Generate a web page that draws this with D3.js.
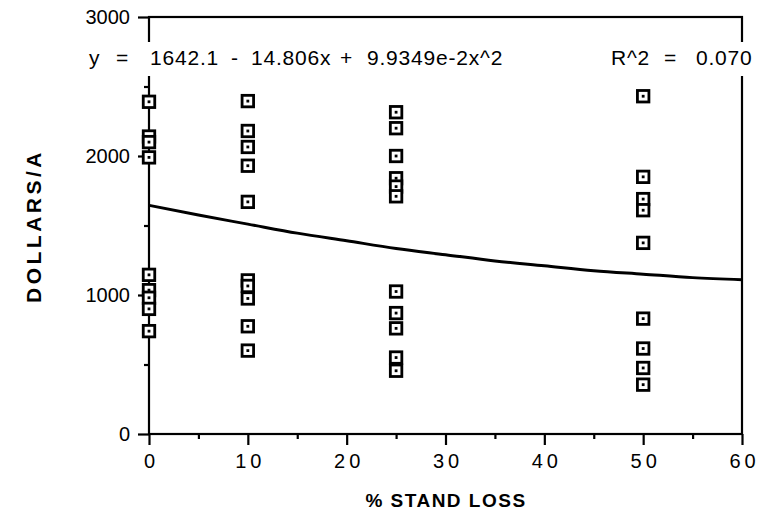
<!DOCTYPE html>
<html><head><meta charset="utf-8">
<script src="https://cdn.jsdelivr.net/npm/d3@7"></script>
<style>body{margin:0;background:#fff}svg{display:block}</style>
</head><body>
<svg id="c" width="772" height="521"></svg>
<script>
// ---- data ----
const standLoss = [0, 10, 25, 50];
const dollarsAt0  = [2390, 2140, 2100, 1990, 1145, 1035, 980, 900, 740];
const dollarsAt10 = [2395, 2180, 2065, 1930, 1670, 1105, 1065, 975, 775, 600];
const dollarsAt25 = [2315, 2200, 2000, 1840, 1780, 1710, 1025, 870, 760, 550, 455];
const dollarsAt50 = [2430, 1850, 1690, 1610, 1375, 830, 615, 475, 355];
const fitX = [0, 5, 10, 15, 20, 25, 30, 35, 40, 45, 50, 55, 60];
const fitY = [1645, 1575, 1510, 1445, 1390, 1335, 1290, 1245, 1210, 1175, 1150, 1125, 1110];
const xTicks = [0, 10, 20, 30, 40, 50, 60];
const xMinor = [5, 15, 25, 35, 45, 55];
const yTicks = [0, 1000, 2000, 3000];
const yMinor = [500, 1500, 2500];
const equationParts = ["y", "=", "1642.1", "-", "14.806x", "+", "9.9349e-2x^2", "R^2", "=", "0.070"];
const xTitle = "% STAND LOSS";
const yTitle = "DOLLARS/A";

const groups = [dollarsAt0, dollarsAt10, dollarsAt25, dollarsAt50];
const points = [];
groups.forEach((arr, i) => arr.forEach(v => points.push({x: standLoss[i], y: v})));

const svg = d3.select("#c");
const L = 149, R = 742, T = 17, B = 434;
const x = d3.scaleLinear().domain([0, 60]).range([L, R]);
const y = d3.scaleLinear().domain([0, 3000]).range([B, T]);
const font = "'Liberation Sans', Arial, Helvetica, sans-serif";

// frame
svg.append("rect").attr("x", L).attr("y", T).attr("width", R - L).attr("height", B - T)
  .attr("fill", "none").attr("stroke", "#000").attr("stroke-width", 2.2);

// axes
const xAxis = svg.append("g").attr("transform", `translate(0,${B})`)
  .call(d3.axisBottom(x).tickValues(xTicks).tickSize(11).tickPadding(9).tickFormat(d3.format("d")));
const xAxisMinor = svg.append("g").attr("transform", `translate(0,${B})`)
  .call(d3.axisBottom(x).tickValues(xMinor).tickSize(5).tickFormat(""));
const yAxis = svg.append("g").attr("transform", `translate(${L},0)`)
  .call(d3.axisLeft(y).tickValues(yTicks).tickSize(11).tickPadding(8).tickFormat(d3.format("d")));
const yAxisMinor = svg.append("g").attr("transform", `translate(${L},0)`)
  .call(d3.axisLeft(y).tickValues(yMinor).tickSize(5).tickFormat(""));
[xAxis, xAxisMinor, yAxis, yAxisMinor].forEach(g => {
  g.select(".domain").remove();
  g.selectAll("line").attr("stroke", "#000").attr("stroke-width", 2.2);
  g.selectAll("text").attr("fill", "#000").style("font-family", font).style("font-size", "20px");
});
xAxis.selectAll("text").style("letter-spacing", "4px").attr("dx", "2px");

// fitted curve
const line = d3.line().x((d, i) => x(fitX[i])).y(d => y(d)).curve(d3.curveMonotoneX);
svg.append("path").datum(fitY).attr("d", line).attr("fill", "none")
  .attr("stroke", "#000").attr("stroke-width", 3);

// points
const s = 11.5;
const pg = svg.append("g").selectAll("g").data(points).join("g")
  .attr("transform", d => `translate(${x(d.x)},${y(d.y)})`);
pg.append("rect").attr("x", -s / 2).attr("y", -s / 2).attr("width", s).attr("height", s)
  .attr("fill", "#fff").attr("stroke", "#000").attr("stroke-width", 2.8);
pg.append("rect").attr("x", -1.4).attr("y", -1.4).attr("width", 2.8).attr("height", 2.8).attr("fill", "#000");

// equation with white background
const eqX = [89, 116, 150, 231, 251, 340, 367, 611, 664, 696];
svg.append("rect").attr("x", 84).attr("y", 42).attr("width", 688).attr("height", 34).attr("fill", "#fff");
svg.append("g").selectAll("text").data(equationParts).join("text")
  .attr("x", (d, i) => eqX[i]).attr("y", 65)
  .style("font-family", font).style("font-size", "21px").style("letter-spacing", "0.8px").attr("fill", "#000")
  .text(d => d);

// titles
svg.append("text").attr("x", 446).attr("y", 507).attr("text-anchor", "middle")
  .style("font-family", font).style("font-size", "19px").style("font-weight", "bold")
  .style("letter-spacing", "1.5px").text(xTitle);
svg.append("text").attr("transform", "translate(41,226) rotate(-90)").attr("text-anchor", "middle")
  .style("font-family", font).style("font-size", "21px").style("font-weight", "bold")
  .style("letter-spacing", "3.5px").text(yTitle);
</script>
</body></html>
